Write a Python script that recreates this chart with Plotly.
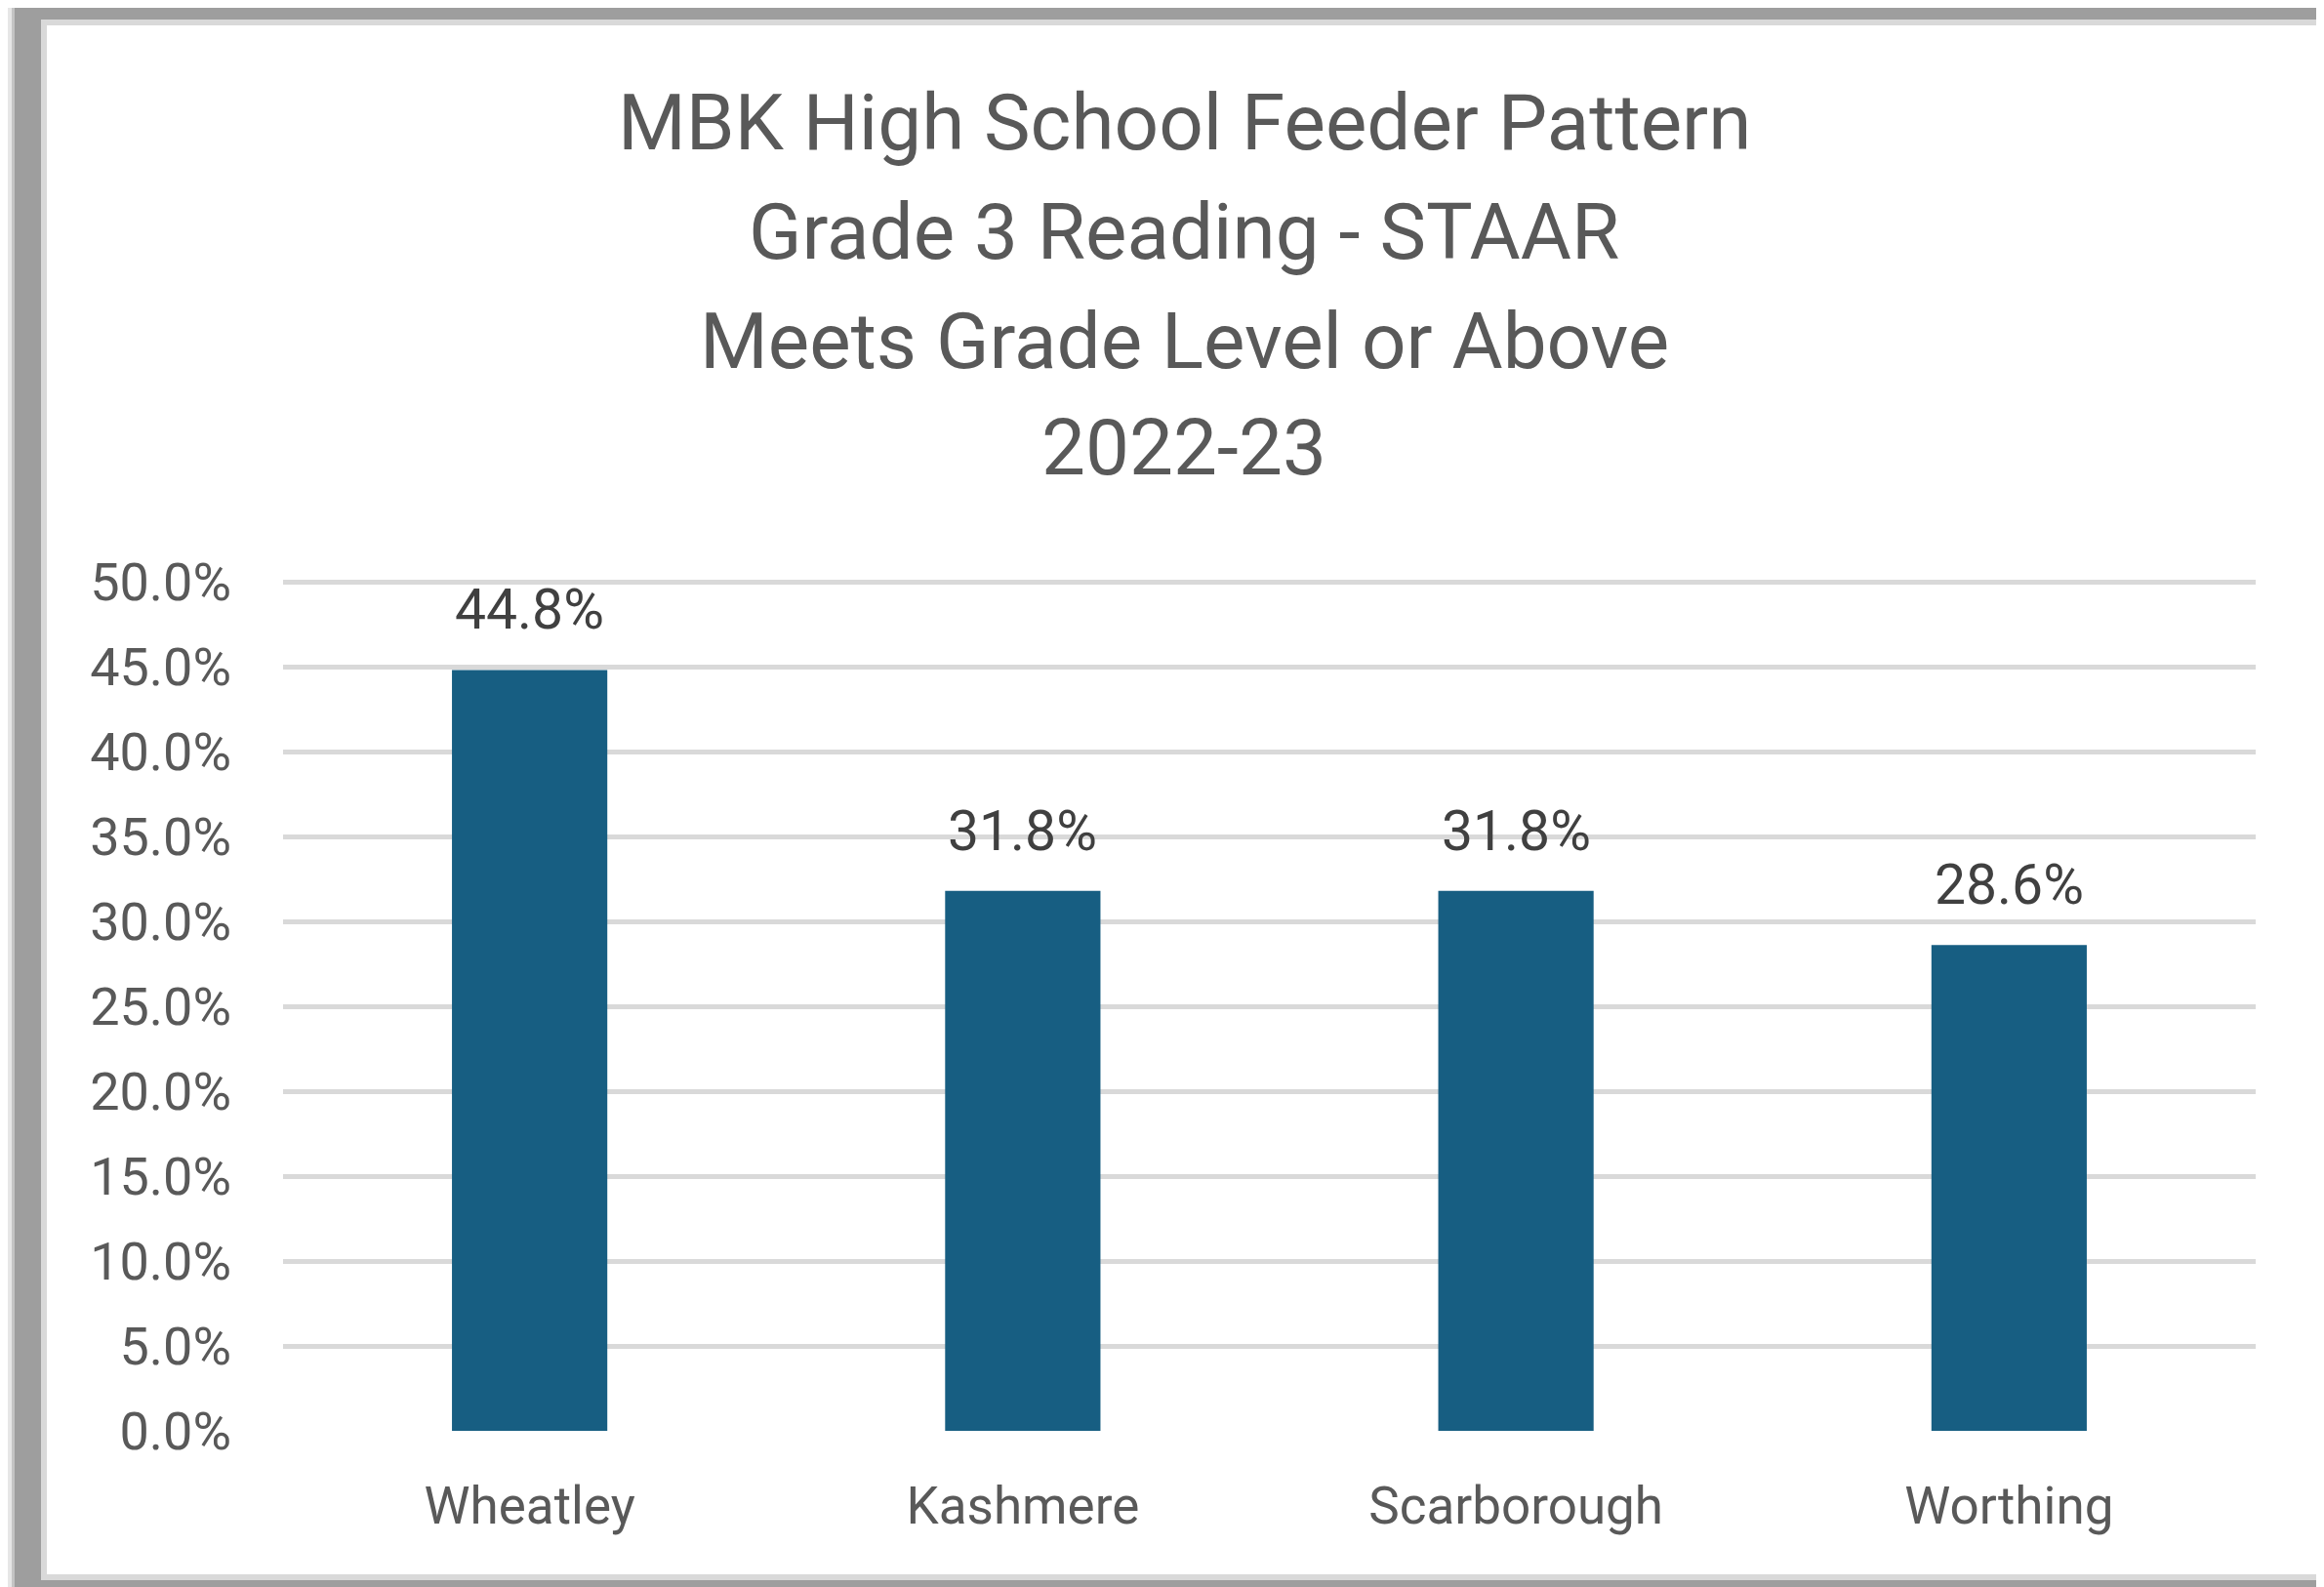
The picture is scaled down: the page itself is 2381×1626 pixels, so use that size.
import plotly.graph_objects as go

# ---- data ----
categories = ["Wheatley", "Kashmere", "Scarborough", "Worthing"]
values = [0.448, 0.318, 0.318, 0.286]
y_ticks = [0.0, 0.05, 0.10, 0.15, 0.20, 0.25, 0.30, 0.35, 0.40, 0.45, 0.50]
title_lines = ["MBK High School Feeder Pattern", "Grade 3 Reading - STAAR",
               "Meets Grade Level or Above", "2022-23"]

# page body has an 8px default margin: size the figure so it fits the window
OFF = 8
W, H = 2381 - OFF, 1626 - OFF
FONT = "Roboto"
BAR_COLOR = "#175E82"


def px(x):
    return (x - OFF) / W


def py(y):
    return 1 - (y - OFF) / H


fig = go.Figure()
fig.add_trace(go.Bar(
    x=categories, y=values, marker=dict(color=BAR_COLOR, line=dict(width=0)),
    width=0.315, hoverinfo="skip", showlegend=False,
))

# data labels
for c, v in zip(categories, values):
    fig.add_annotation(x=c, y=v, xref="x", yref="y", text=f"{v*100:.1f}%",
                       showarrow=False, yanchor="bottom", yshift=26,
                       font=dict(family=FONT, size=57, color="#404040"))

# title, one annotation per line to match the line spacing
title_y = [126, 238, 350, 459]
for line, ty in zip(title_lines, title_y):
    fig.add_annotation(x=px(1213), y=py(ty), xref="paper", yref="paper",
                       text=line, showarrow=False,
                       xanchor="center", yanchor="middle", align="center",
                       font=dict(family=FONT, size=80, color="#595959"))

# frame shapes
shapes = []
def rect(x0, y0, x1, y1, color):
    shapes.append(dict(type="rect", xref="paper", yref="paper",
                       x0=px(x0), x1=px(x1), y0=py(y1), y1=py(y0),
                       fillcolor=color, line=dict(width=0), layer="below"))

rect(8, 0, 12, 1640, "#E6E6E6")
rect(12, 0, 15, 1640, "#C4C4C4")
rect(15, 0, 2400, 1640, "#9E9E9E")
rect(42, 20, 2400, 1619, "#D9D9D9")
rect(48, 26, 2378, 1613, "#FFFFFF")
fig.update_layout(shapes=shapes)

y_top = 0.502
fig.update_layout(
    width=W, height=H,
    margin=dict(l=0, r=0, t=0, b=0, pad=0, autoexpand=False),
    paper_bgcolor="#FFFFFF", plot_bgcolor="rgba(0,0,0,0)",
    xaxis=dict(domain=[px(290), px(2311)], showgrid=False, showline=False,
               zeroline=False, ticks="", ticklabelstandoff=41, automargin=False,
               tickfont=dict(family=FONT, size=53, color="#595959")),
    yaxis=dict(domain=[py(1466), py(1466 - 870 * y_top / 0.5)],
               range=[0, y_top], tickvals=y_ticks,
               tickformat=".1%", showgrid=True, gridcolor="#D9D9D9",
               gridwidth=5, showline=False, zeroline=False, ticks="",
               ticklabelstandoff=52, automargin=False,
               tickfont=dict(family=FONT, size=54, color="#595959")),
    showlegend=False,
)

fig.write_html("out.html", config={"displayModeBar": False})
